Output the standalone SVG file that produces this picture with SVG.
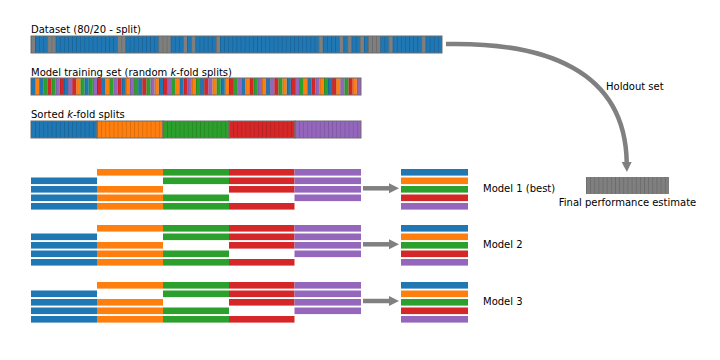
<svg xmlns="http://www.w3.org/2000/svg" width="720" height="360" viewBox="0 0 720 360">
<style>
text{font-family:"DejaVu Sans","Liberation Sans",sans-serif;font-size:10px;fill:#000}
.b{fill:#1f77b4}.o{fill:#ff7f0e}.g{fill:#2ca02c}.r{fill:#d62728}.p{fill:#9467bd}.h{fill:#7f7f7f}
.frame{fill:none;stroke:#6e6e6e;stroke-width:1}
.arrow{fill:none;stroke:#808080;stroke-width:4.5}
.ah{fill:#808080}
</style>
<defs>
<pattern id="s1" x="31" y="0" width="4.11" height="360" patternUnits="userSpaceOnUse"><rect x="0" y="0" width="0.7" height="360" fill="#000" fill-opacity="0.18"/></pattern>
<pattern id="s2" x="31" y="0" width="4.125" height="360" patternUnits="userSpaceOnUse"><rect x="0" y="0" width="0.7" height="360" fill="#000" fill-opacity="0.18"/></pattern>
<pattern id="s3" x="586" y="0" width="4.15" height="360" patternUnits="userSpaceOnUse"><rect x="0" y="0" width="0.7" height="360" fill="#000" fill-opacity="0.18"/></pattern>
<marker id="head" markerWidth="10" markerHeight="10" refX="0" refY="5" orient="auto" markerUnits="userSpaceOnUse" viewBox="0 0 10 10"><path d="M0,0 L10,5 L0,10 Z" class="ah"/></marker>
</defs>

<g id="dataset">
<text x="31" y="33">Dataset (80/20 - split)</text>
<rect class="b" x="31" y="36" width="411" height="17"/>
<g class="h">
<rect x="31" y="36" width="4.11" height="17"/>
<rect x="47.44" y="36" width="8.22" height="17"/>
<rect x="117.31" y="36" width="8.22" height="17"/>
<rect x="158.41" y="36" width="12.33" height="17"/>
<rect x="183.07" y="36" width="4.11" height="17"/>
<rect x="191.29" y="36" width="4.11" height="17"/>
<rect x="215.95" y="36" width="4.11" height="17"/>
<rect x="318.7" y="36" width="4.11" height="17"/>
<rect x="339.25" y="36" width="4.11" height="17"/>
<rect x="347.47" y="36" width="4.11" height="17"/>
<rect x="359.8" y="36" width="4.11" height="17"/>
<rect x="368.02" y="36" width="12.33" height="17"/>
<rect x="388.57" y="36" width="4.11" height="17"/>
<rect x="421.45" y="36" width="4.11" height="17"/>
</g>
<rect x="31" y="36" width="411" height="17" fill="url(#s1)"/>
<rect class="frame" x="31" y="36" width="411" height="17"/>
</g>

<g id="training-set">
<text x="31" y="76">Model training set (random <tspan font-style="italic">k</tspan>-fold splits)</text>
<g>
<rect class="b" x="31" y="78" width="4.125" height="17"/>
<rect class="o" x="35.125" y="78" width="4.125" height="17"/>
<rect class="b" x="39.25" y="78" width="4.125" height="17"/>
<rect class="g" x="43.375" y="78" width="4.125" height="17"/>
<rect class="r" x="47.5" y="78" width="4.125" height="17"/>
<rect class="g" x="51.625" y="78" width="4.125" height="17"/>
<rect class="p" x="55.75" y="78" width="4.125" height="17"/>
<rect class="r" x="59.875" y="78" width="4.125" height="17"/>
<rect class="b" x="64" y="78" width="4.125" height="17"/>
<rect class="p" x="68.125" y="78" width="4.125" height="17"/>
<rect class="r" x="72.25" y="78" width="4.125" height="17"/>
<rect class="o" x="76.375" y="78" width="4.125" height="17"/>
<rect class="g" x="80.5" y="78" width="4.125" height="17"/>
<rect class="b" x="84.625" y="78" width="4.125" height="17"/>
<rect class="g" x="88.75" y="78" width="4.125" height="17"/>
<rect class="p" x="92.875" y="78" width="4.125" height="17"/>
<rect class="r" x="97" y="78" width="4.125" height="17"/>
<rect class="b" x="101.125" y="78" width="4.125" height="17"/>
<rect class="o" x="105.25" y="78" width="4.125" height="17"/>
<rect class="g" x="109.375" y="78" width="4.125" height="17"/>
<rect class="p" x="113.5" y="78" width="4.125" height="17"/>
<rect class="r" x="117.625" y="78" width="4.125" height="17"/>
<rect class="b" x="121.75" y="78" width="4.125" height="17"/>
<rect class="o" x="125.875" y="78" width="4.125" height="17"/>
<rect class="p" x="130" y="78" width="4.125" height="17"/>
<rect class="g" x="134.125" y="78" width="4.125" height="17"/>
<rect class="b" x="138.25" y="78" width="4.125" height="17"/>
<rect class="r" x="142.375" y="78" width="4.125" height="17"/>
<rect class="g" x="146.5" y="78" width="4.125" height="17"/>
<rect class="p" x="150.625" y="78" width="4.125" height="17"/>
<rect class="o" x="154.75" y="78" width="4.125" height="17"/>
<rect class="b" x="158.875" y="78" width="4.125" height="17"/>
<rect class="r" x="163" y="78" width="4.125" height="17"/>
<rect class="p" x="167.125" y="78" width="4.125" height="17"/>
<rect class="g" x="171.25" y="78" width="4.125" height="17"/>
<rect class="o" x="175.375" y="78" width="4.125" height="17"/>
<rect class="b" x="179.5" y="78" width="4.125" height="17"/>
<rect class="r" x="183.625" y="78" width="4.125" height="17"/>
<rect class="p" x="187.75" y="78" width="4.125" height="17"/>
<rect class="o" x="191.875" y="78" width="4.125" height="17"/>
<rect class="g" x="196" y="78" width="4.125" height="17"/>
<rect class="b" x="200.125" y="78" width="4.125" height="17"/>
<rect class="r" x="204.25" y="78" width="4.125" height="17"/>
<rect class="p" x="208.375" y="78" width="4.125" height="17"/>
<rect class="o" x="212.5" y="78" width="4.125" height="17"/>
<rect class="g" x="216.625" y="78" width="4.125" height="17"/>
<rect class="b" x="220.75" y="78" width="4.125" height="17"/>
<rect class="o" x="224.875" y="78" width="4.125" height="17"/>
<rect class="r" x="229" y="78" width="4.125" height="17"/>
<rect class="g" x="233.125" y="78" width="4.125" height="17"/>
<rect class="p" x="237.25" y="78" width="4.125" height="17"/>
<rect class="b" x="241.375" y="78" width="4.125" height="17"/>
<rect class="o" x="245.5" y="78" width="4.125" height="17"/>
<rect class="r" x="249.625" y="78" width="4.125" height="17"/>
<rect class="g" x="253.75" y="78" width="4.125" height="17"/>
<rect class="p" x="257.875" y="78" width="4.125" height="17"/>
<rect class="o" x="262" y="78" width="4.125" height="17"/>
<rect class="b" x="266.125" y="78" width="4.125" height="17"/>
<rect class="p" x="270.25" y="78" width="4.125" height="17"/>
<rect class="r" x="274.375" y="78" width="4.125" height="17"/>
<rect class="g" x="278.5" y="78" width="4.125" height="17"/>
<rect class="o" x="282.625" y="78" width="4.125" height="17"/>
<rect class="b" x="286.75" y="78" width="4.125" height="17"/>
<rect class="r" x="290.875" y="78" width="4.125" height="17"/>
<rect class="p" x="295" y="78" width="4.125" height="17"/>
<rect class="g" x="299.125" y="78" width="4.125" height="17"/>
<rect class="o" x="303.25" y="78" width="4.125" height="17"/>
<rect class="b" x="307.375" y="78" width="4.125" height="17"/>
<rect class="r" x="311.5" y="78" width="4.125" height="17"/>
<rect class="p" x="315.625" y="78" width="4.125" height="17"/>
<rect class="o" x="319.75" y="78" width="4.125" height="17"/>
<rect class="g" x="323.875" y="78" width="4.125" height="17"/>
<rect class="b" x="328" y="78" width="4.125" height="17"/>
<rect class="r" x="332.125" y="78" width="4.125" height="17"/>
<rect class="o" x="336.25" y="78" width="4.125" height="17"/>
<rect class="p" x="340.375" y="78" width="4.125" height="17"/>
<rect class="g" x="344.5" y="78" width="4.125" height="17"/>
<rect class="r" x="348.625" y="78" width="4.125" height="17"/>
<rect class="o" x="352.75" y="78" width="4.125" height="17"/>
<rect class="p" x="356.875" y="78" width="4.125" height="17"/>
</g>
<rect x="31" y="78" width="330" height="17" fill="url(#s2)"/>
<rect class="frame" x="31" y="78" width="330" height="17"/>
</g>

<g id="sorted-folds">
<text x="31" y="118">Sorted <tspan font-style="italic">k</tspan>-fold splits</text>
<rect class="b" x="31" y="121" width="66" height="17"/>
<rect class="o" x="97" y="121" width="66" height="17"/>
<rect class="g" x="163" y="121" width="66" height="17"/>
<rect class="r" x="229" y="121" width="66" height="17"/>
<rect class="p" x="295" y="121" width="66" height="17"/>
<rect x="31" y="121" width="330" height="17" fill="url(#s2)"/>
<g class="frame">
<rect x="31" y="121" width="66" height="17"/>
<rect x="97" y="121" width="66" height="17"/>
<rect x="163" y="121" width="66" height="17"/>
<rect x="229" y="121" width="66" height="17"/>
<rect x="295" y="121" width="66" height="17"/>
</g>
</g>

<g id="model1">
<rect class="o" x="97" y="169" width="66" height="6.6"/><rect class="g" x="163" y="169" width="66" height="6.6"/><rect class="r" x="229" y="169" width="65.5" height="6.6"/><rect class="p" x="294.5" y="169" width="66.5" height="6.6"/>
<rect class="b" x="31" y="177.5" width="66" height="6.6"/><rect class="g" x="163" y="177.5" width="66" height="6.6"/><rect class="r" x="229" y="177.5" width="65.5" height="6.6"/><rect class="p" x="294.5" y="177.5" width="66.5" height="6.6"/>
<rect class="b" x="31" y="186" width="66" height="6.6"/><rect class="o" x="97" y="186" width="66" height="6.6"/><rect class="r" x="229" y="186" width="65.5" height="6.6"/><rect class="p" x="294.5" y="186" width="66.5" height="6.6"/>
<rect class="b" x="31" y="194.5" width="66" height="6.6"/><rect class="o" x="97" y="194.5" width="66" height="6.6"/><rect class="g" x="163" y="194.5" width="66" height="6.6"/><rect class="p" x="294.5" y="194.5" width="66.5" height="6.6"/>
<rect class="b" x="31" y="203" width="66" height="6.6"/><rect class="o" x="97" y="203" width="66" height="6.6"/><rect class="g" x="163" y="203" width="66" height="6.6"/><rect class="r" x="229" y="203" width="65.5" height="6.6"/>
<rect class="b" x="401" y="169" width="67" height="6.6"/>
<rect class="o" x="401" y="177.5" width="67" height="6.6"/>
<rect class="g" x="401" y="186" width="67" height="6.6"/>
<rect class="r" x="401" y="194.5" width="67" height="6.6"/>
<rect class="p" x="401" y="203" width="67" height="6.6"/>
<text x="483" y="192">Model 1 (best)</text>
</g>

<g id="model2">
<rect class="o" x="97" y="225" width="66" height="6.6"/><rect class="g" x="163" y="225" width="66" height="6.6"/><rect class="r" x="229" y="225" width="65.5" height="6.6"/><rect class="p" x="294.5" y="225" width="66.5" height="6.6"/>
<rect class="b" x="31" y="233.5" width="66" height="6.6"/><rect class="g" x="163" y="233.5" width="66" height="6.6"/><rect class="r" x="229" y="233.5" width="65.5" height="6.6"/><rect class="p" x="294.5" y="233.5" width="66.5" height="6.6"/>
<rect class="b" x="31" y="242" width="66" height="6.6"/><rect class="o" x="97" y="242" width="66" height="6.6"/><rect class="r" x="229" y="242" width="65.5" height="6.6"/><rect class="p" x="294.5" y="242" width="66.5" height="6.6"/>
<rect class="b" x="31" y="250.5" width="66" height="6.6"/><rect class="o" x="97" y="250.5" width="66" height="6.6"/><rect class="g" x="163" y="250.5" width="66" height="6.6"/><rect class="p" x="294.5" y="250.5" width="66.5" height="6.6"/>
<rect class="b" x="31" y="259" width="66" height="6.6"/><rect class="o" x="97" y="259" width="66" height="6.6"/><rect class="g" x="163" y="259" width="66" height="6.6"/><rect class="r" x="229" y="259" width="65.5" height="6.6"/>
<rect class="b" x="401" y="225" width="67" height="6.6"/>
<rect class="o" x="401" y="233.5" width="67" height="6.6"/>
<rect class="g" x="401" y="242" width="67" height="6.6"/>
<rect class="r" x="401" y="250.5" width="67" height="6.6"/>
<rect class="p" x="401" y="259" width="67" height="6.6"/>
<text x="483" y="248">Model 2</text>
</g>

<g id="model3">
<rect class="o" x="97" y="282" width="66" height="6.6"/><rect class="g" x="163" y="282" width="66" height="6.6"/><rect class="r" x="229" y="282" width="65.5" height="6.6"/><rect class="p" x="294.5" y="282" width="66.5" height="6.6"/>
<rect class="b" x="31" y="290.5" width="66" height="6.6"/><rect class="g" x="163" y="290.5" width="66" height="6.6"/><rect class="r" x="229" y="290.5" width="65.5" height="6.6"/><rect class="p" x="294.5" y="290.5" width="66.5" height="6.6"/>
<rect class="b" x="31" y="299" width="66" height="6.6"/><rect class="o" x="97" y="299" width="66" height="6.6"/><rect class="r" x="229" y="299" width="65.5" height="6.6"/><rect class="p" x="294.5" y="299" width="66.5" height="6.6"/>
<rect class="b" x="31" y="307.5" width="66" height="6.6"/><rect class="o" x="97" y="307.5" width="66" height="6.6"/><rect class="g" x="163" y="307.5" width="66" height="6.6"/><rect class="p" x="294.5" y="307.5" width="66.5" height="6.6"/>
<rect class="b" x="31" y="316" width="66" height="6.6"/><rect class="o" x="97" y="316" width="66" height="6.6"/><rect class="g" x="163" y="316" width="66" height="6.6"/><rect class="r" x="229" y="316" width="65.5" height="6.6"/>
<rect class="b" x="401" y="282" width="67" height="6.6"/>
<rect class="o" x="401" y="290.5" width="67" height="6.6"/>
<rect class="g" x="401" y="299" width="67" height="6.6"/>
<rect class="r" x="401" y="307.5" width="67" height="6.6"/>
<rect class="p" x="401" y="316" width="67" height="6.6"/>
<text x="483" y="305">Model 3</text>
</g>

<g id="final-estimate">
<rect class="h" x="586" y="177" width="83" height="17"/>
<rect x="586" y="177" width="83" height="17" fill="url(#s3)"/>
<text x="627.5" y="206" text-anchor="middle">Final performance estimate</text>
</g>

<g id="holdout-label">
<text x="606" y="90">Holdout set</text>
</g>

<g id="connectors">
<path class="arrow" d="M446,44 C545,42 625,70 626.7,162" marker-end="url(#head)"/>
<path class="arrow" d="M363,188.3 L389,188.3" marker-end="url(#head)"/>
<path class="arrow" d="M363,244.3 L389,244.3" marker-end="url(#head)"/>
<path class="arrow" d="M363,301 L389,301" marker-end="url(#head)"/>
</g>
</svg>
